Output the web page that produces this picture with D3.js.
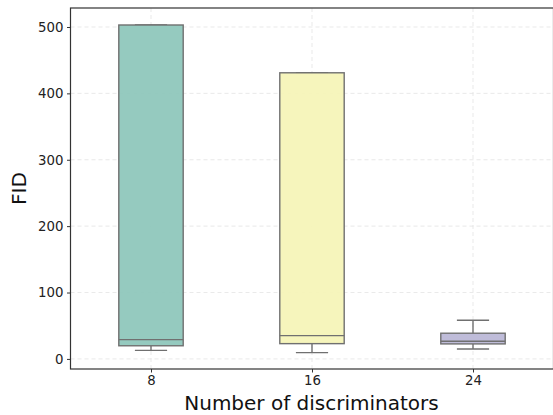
<!DOCTYPE html>
<html><head><meta charset="utf-8">
<script src="https://cdn.jsdelivr.net/npm/d3@7"></script>
<style>body{margin:0;background:#fff}svg{display:block}text{font-family:"DejaVu Sans",sans-serif}</style>
</head><body>
<svg id="c" width="553" height="415"></svg>
<script>
const categories = ["8","16","24"];
const whiskerLow = [12.8, 9.5, 15];
const q1 = [19.8, 23, 22.6];
const median = [29, 35, 26.6];
const q3 = [503, 431, 38.7];
const whiskerHigh = [503, 431, 58.3];
const colors = ["#8fc7bc","#f5f4b8","#bcb8d7"];
const yTicks = [0,100,200,300,400,500];
const xLabel = "Number of discriminators";
const yLabel = "FID";

const svg = d3.select("#c");
const L=70.5, R=553.5, T=8, B=369;
const x = d3.scaleLinear().domain([-0.5,2.5]).range([L,R]);
const y = d3.scaleLinear().domain([-15.2,528.6]).range([B,T]);
const bw = (x(1)-x(0))*0.4;

const g = svg.append("g");
g.selectAll(".gy").data(yTicks).join("line")
 .attr("x1",L).attr("x2",R).attr("y1",d=>y(d)).attr("y2",d=>y(d))
 .attr("stroke","#e3e3e3").attr("stroke-width",0.8).attr("stroke-dasharray","4,3");
g.selectAll(".gx").data(categories).join("line")
 .attr("x1",(d,i)=>x(i)).attr("x2",(d,i)=>x(i)).attr("y1",T).attr("y2",B)
 .attr("stroke","#e3e3e3").attr("stroke-width",0.8).attr("stroke-dasharray","4,3");

const lc="#707070";
categories.forEach((c,i)=>{
  const cx=x(i);
  g.append("line").attr("x1",cx).attr("x2",cx).attr("y1",y(q1[i])).attr("y2",y(whiskerLow[i])).attr("stroke",lc).attr("stroke-width",1.4);
  g.append("line").attr("x1",cx).attr("x2",cx).attr("y1",y(q3[i])).attr("y2",y(whiskerHigh[i])).attr("stroke",lc).attr("stroke-width",1.4);
  g.append("line").attr("x1",cx-bw/4).attr("x2",cx+bw/4).attr("y1",y(whiskerLow[i])).attr("y2",y(whiskerLow[i])).attr("stroke",lc).attr("stroke-width",1.4);
  g.append("line").attr("x1",cx-bw/4).attr("x2",cx+bw/4).attr("y1",y(whiskerHigh[i])).attr("y2",y(whiskerHigh[i])).attr("stroke",lc).attr("stroke-width",1.4);
  g.append("rect").attr("x",cx-bw/2).attr("width",bw).attr("y",y(q3[i])).attr("height",y(q1[i])-y(q3[i]))
   .attr("fill",colors[i]).attr("fill-opacity",0.95).attr("stroke",lc).attr("stroke-width",1.4);
  g.append("line").attr("x1",cx-bw/2).attr("x2",cx+bw/2).attr("y1",y(median[i])).attr("y2",y(median[i])).attr("stroke",lc).attr("stroke-width",1.4);
});

const ya = d3.axisLeft(y).tickValues(yTicks).tickSize(3.5).tickPadding(3.5);
const yg = svg.append("g").attr("transform",`translate(${L},0)`).call(ya);
const xa = d3.axisBottom(x).tickValues([0,1,2]).tickFormat(i=>categories[i]).tickSize(3.5).tickPadding(3.5);
const xg = svg.append("g").attr("transform",`translate(0,${B})`).call(xa);
[yg,xg].forEach(a=>{a.select(".domain").remove();a.selectAll("text").attr("font-size",13.3).attr("fill","#222");a.selectAll("line").attr("stroke","#333").attr("stroke-width",1);});
svg.append("rect").attr("x",L).attr("y",T).attr("width",R-L).attr("height",B-T).attr("fill","none").attr("stroke","#333").attr("stroke-width",1.2);

svg.append("text").attr("x",(L+R)/2-0.5).attr("y",410).attr("text-anchor","middle").attr("font-size",20).attr("fill","#111").text(xLabel);
svg.append("text").attr("transform",`translate(26,${(T+B)/2}) rotate(-90)`).attr("text-anchor","middle").attr("font-size",20.2).attr("fill","#111").text(yLabel);
</script>
</body></html>
